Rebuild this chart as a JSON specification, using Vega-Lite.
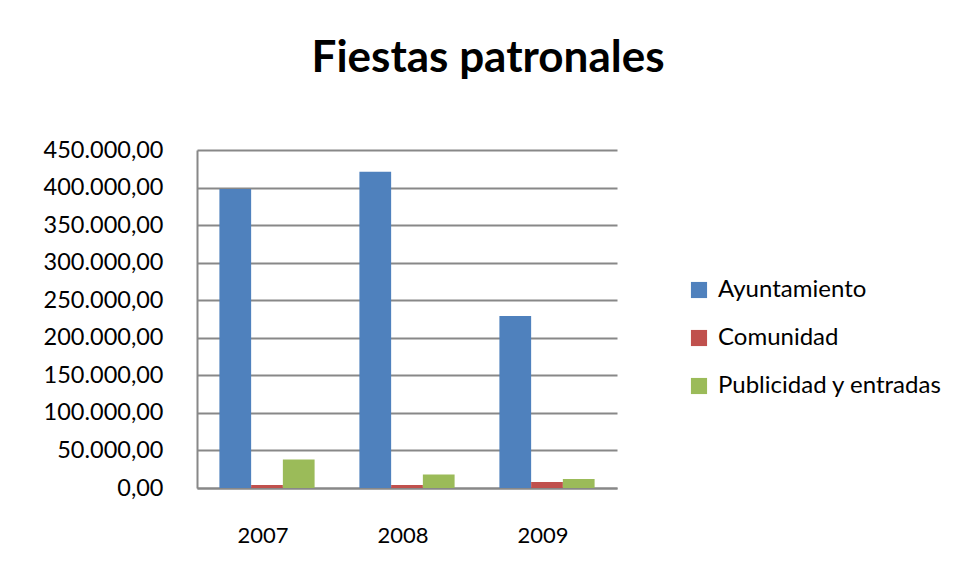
{
  "$schema": "https://vega.github.io/schema/vega-lite/v6.json",
  "autosize": "none",
  "width": 420,
  "height": 338,
  "padding": {"left": 197, "top": 150, "right": 339, "bottom": 89},
  "background": "white",
  "config": {
    "font": "Lato",
    "view": {"stroke": null},
    "locale": {"number": {"decimal": ",", "thousands": ".", "grouping": [3], "currency": ["", " €"]}}
  },
  "title": {
    "text": "Fiestas patronales",
    "font": "Lato",
    "fontSize": 44,
    "fontWeight": "bold",
    "color": "#000000",
    "anchor": "middle",
    "frame": "group",
    "dx": 81,
    "offset": 57
  },
  "data": {
    "values": [
      {"year": "2007", "serie": "Ayuntamiento", "valor": 398000},
      {"year": "2007", "serie": "Comunidad", "valor": 4000},
      {"year": "2007", "serie": "Publicidad y entradas", "valor": 38000},
      {"year": "2008", "serie": "Ayuntamiento", "valor": 421000},
      {"year": "2008", "serie": "Comunidad", "valor": 4000},
      {"year": "2008", "serie": "Publicidad y entradas", "valor": 18000},
      {"year": "2009", "serie": "Ayuntamiento", "valor": 229000},
      {"year": "2009", "serie": "Comunidad", "valor": 8000},
      {"year": "2009", "serie": "Publicidad y entradas", "valor": 12000}
    ]
  },
  "mark": {"type": "bar", "stroke": null},
  "encoding": {
    "x": {
      "field": "year",
      "type": "nominal",
      "scale": {"paddingInner": 0.32, "paddingOuter": 0.16},
      "axis": {
        "title": null,
        "labelAngle": 0,
        "labelFont": "Lato",
        "labelFontSize": 22,
        "labelColor": "#000000",
        "labelPadding": 37,
        "labelOffset": -4,
        "ticks": false,
        "domain": true,
        "domainColor": "#888888",
        "domainWidth": 2
      }
    },
    "xOffset": {"field": "serie", "type": "nominal", "sort": ["Ayuntamiento", "Comunidad", "Publicidad y entradas"], "scale": {"paddingInner": 0}},
    "y": {
      "field": "valor",
      "type": "quantitative",
      "scale": {"domain": [0, 450000], "nice": false},
      "axis": {
        "title": null,
        "values": [0, 50000, 100000, 150000, 200000, 250000, 300000, 350000, 400000, 450000],
        "format": ",.2f",
        "labelFont": "Lato",
        "labelFontSize": 23.5,
        "labelColor": "#000000",
        "labelPadding": 34,
        "ticks": true,
        "tickSize": 0,
        "tickOpacity": 0,
        "domain": true,
        "domainColor": "#888888",
        "domainWidth": 2,
        "grid": true,
        "gridColor": "#888888",
        "gridWidth": 2
      }
    },
    "color": {
      "field": "serie",
      "type": "nominal",
      "sort": ["Ayuntamiento", "Comunidad", "Publicidad y entradas"],
      "scale": {"range": ["#4F81BD", "#C0504D", "#9BBB59"]},
      "legend": {
        "title": null,
        "orient": "none",
        "legendX": 490,
        "legendY": 128,
        "symbolType": "square",
        "symbolSize": 260,
        "symbolStrokeWidth": 0,
        "labelFont": "Lato",
        "labelFontSize": 24,
        "labelColor": "#000000",
        "labelOffset": 7,
        "labelLimit": 400,
        "rowPadding": 24
      }
    }
  }
}
